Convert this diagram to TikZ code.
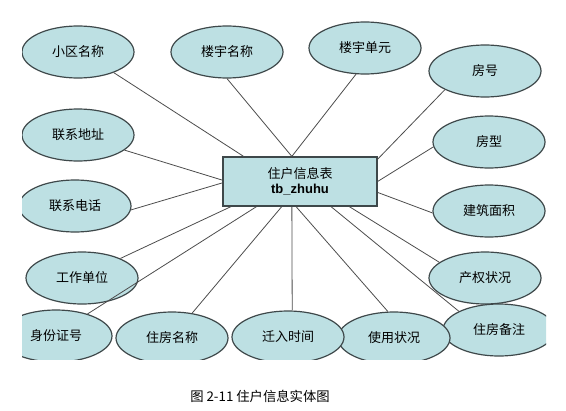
\documentclass[tikz,border=0pt]{standalone}
\usepackage{fontspec}
\setmainfont{Liberation Sans}
\newfontfamily\cjk{Noto Sans CJK SC}
\usetikzlibrary{shapes.geometric}

\definecolor{attrfill}{RGB}{189,224,227}
\definecolor{rimgray}{RGB}{62,72,74}
\tikzstyle{attr}=[ellipse,draw=rimgray,line width=0.9pt,fill=attrfill,minimum width=84pt,minimum height=39pt,inner sep=0pt,font=\cjk\fontsize{9.75}{11}\selectfont]
\tikzstyle{entity}=[rectangle,draw=rimgray,line width=0.9pt,fill=attrfill,minimum width=115.5pt,minimum height=36.75pt,inner sep=0pt,align=center]
\tikzstyle{edge}=[draw,black!70,line width=0.6pt]
\tikzstyle{caption}=[font=\cjk\fontsize{10}{12}\selectfont]

\begin{document}
\begin{tikzpicture}[x=0.75pt,y=-0.75pt]
\useasboundingbox (0,0) rectangle (566,410);
\begin{scope}
\clip (22,0) rectangle (546,359);
\node[entity] (tb) at (300,181.5) {{\cjk\fontsize{9.75}{10.5}\selectfont 住户信息表}\\[-1pt]
  {\fontsize{9.75}{11}\selectfont\bfseries tb\_zhuhu}};
\foreach \pos/\name/\txt in {{(78,52)/xqmc/小区名称}, {(227,52)/lymc/楼宇名称},
                            {(365,48)/lydy/楼宇单元}, {(485,71)/fh/房号},
                            {(489,142)/fx/房型}, {(489,211)/jzmj/建筑面积},
                            {(485,278)/cqzk/产权状况}, {(499,330)/zfbz/住房备注},
                            {(394,338)/syzk/使用状况}, {(288,337)/qrsj/迁入时间},
                            {(172,338)/zfmc/住房名称}, {(56,336)/sfzh/身份证号},
                            {(82,278)/gzdw/工作单位}, {(75,206)/lxdh/联系电话},
                            {(78,135)/lxdz/联系地址}}{
  \node[attr] (\name) at \pos {\txt};
}
\foreach \name/\from/\to in {xqmc/-30/156, lymc/-90/108, lydy/-109/108,
                             fh/-155/16, fx/-175/0, jzmj/-178/-8,
                             cqzk/161/-27, zfbz/155/-39, syzk/103/-99,
                             qrsj/81/-108, zfmc/51/-126, sfzh/35/-150,
                             gzdw/27/-160, lxdh/-4/181, lxdz/-18/179} {
  \path[edge] (\name.\from) -- (tb.\to);
}
\end{scope}
\node[caption] (cap) at (260,396) {图 2-11 住户信息实体图};
\end{tikzpicture}
\end{document}
